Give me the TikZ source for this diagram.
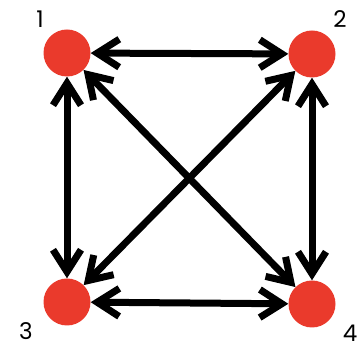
\documentclass[tikz,border=0pt]{standalone}
\usepackage{fontspec}
\setmainfont{Poppins}
\usetikzlibrary{arrows.meta}
\definecolor{vred}{RGB}{234,58,44}

\begin{document}
\begin{tikzpicture}[
    x=1pt, y=1pt,
    vertex/.style={circle, fill=vred, minimum size=47pt, inner sep=0pt},
    num/.style={font=\fontsize{23}{26}\selectfont, inner sep=0pt},
    arr/.style={{Straight Barb[length=22pt,width=28pt,line width=7pt]}-{Straight Barb[length=22pt,width=28pt,line width=7pt]}, line width=7pt}
]
    \useasboundingbox (0,0) rectangle (362,350);
    \node[vertex] (v1) at (67,297) {};
    \node[vertex] (v2) at (312,296) {};
    \node[vertex] (v3) at (67,48) {};
    \node[vertex] (v4) at (312,46) {};

    \node[num] (n1) at (40,331) {1};
    \node[num] (n2) at (340,331) {2};
    \node[num] (n3) at (26,19) {3};
    \node[num] (n4) at (350,17) {4};

    \draw[arr] (v1) -- (v2);
    \draw[arr] (v1) -- (v3);
    \draw[arr] (v1) -- (v4);
    \draw[arr] (v2) -- (v3);
    \draw[arr] (v2) -- (v4);
    \draw[arr] (v3) -- (v4);
\end{tikzpicture}
\end{document}
